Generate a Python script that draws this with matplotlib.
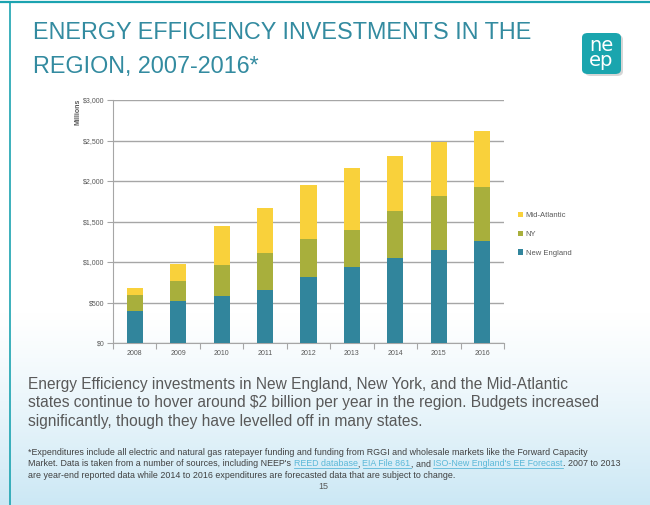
import numpy as np
import matplotlib
matplotlib.use("Agg")
import matplotlib.pyplot as plt
from matplotlib.patches import FancyBboxPatch
from matplotlib.lines import Line2D

# data (millions of dollars)
years = ["2008", "2009", "2010", "2011", "2012", "2013", "2014", "2015", "2016"]
new_england = [390, 514, 575, 658, 818, 938, 1053, 1152, 1254]
ny = [198, 255, 383, 457, 461, 457, 572, 667, 667]
mid_atlantic = [91, 210, 490, 552, 667, 769, 679, 666, 691]
y_ticks = [0, 500, 1000, 1500, 2000, 2500, 3000]

c_ne = "#31859C"
c_ny = "#A8AF3C"
c_ma = "#F9D13B"
grey_txt = "#595959"
teal = "#338BA0"

W, H = 650, 505
fig = plt.figure(figsize=(6.5, 5.05), dpi=100)
plt.rcParams["font.family"] = ["Liberation Sans", "DejaVu Sans"]

# background: white fading into light blue at the bottom
bg = fig.add_axes([0, 0, 1, 1], zorder=-10)
bg.axis("off")
t = np.linspace(0, 1, H)
ramp = np.clip((t - 0.62) / 0.38, 0, 1) ** 1.2
top_c = np.array([1.0, 1.0, 1.0])
bot_c = np.array([0.80, 0.91, 0.96])
grad = top_c[None, :] * (1 - ramp[:, None]) + bot_c[None, :] * ramp[:, None]
bg.imshow(grad[:, None, :], aspect="auto", extent=[0, 1, 0, 1])
bg.set_xlim(0, 1)
bg.set_ylim(0, 1)

def fx(px):
    return px / W

def fy(py):
    return 1 - py / H

# slide frame lines
fig.add_artist(Line2D([0, 1], [fy(1.5), fy(1.5)], color="#1BA3B0", lw=1.6))
fig.add_artist(Line2D([fx(10), fx(10)], [0, fy(1.5)], color="#1BA3B0", lw=1.2))

# title
fig.text(fx(33), fy(39), "ENERGY EFFICIENCY INVESTMENTS IN THE", color=teal,
         fontsize=16.8, va="baseline", ha="left")
fig.text(fx(33), fy(73), "REGION, 2007-2016*", color=teal,
         fontsize=16.8, va="baseline", ha="left")

# logo
shadow = FancyBboxPatch((fx(585), fy(76)), fx(38), 41 / H,
                        boxstyle="round,pad=0,rounding_size=0.009",
                        transform=fig.transFigure, fc="#BBBBBB", ec="none", alpha=0.6)
fig.add_artist(shadow)
logo = FancyBboxPatch((fx(582), fy(74)), fx(39), 41 / H,
                      boxstyle="round,pad=0,rounding_size=0.009",
                      transform=fig.transFigure, fc="#1AA5AE", ec="none")
fig.add_artist(logo)
fig.text(fx(601.5), fy(53), "ne\nep", color="white", fontsize=14, ha="center",
         va="center", family="DejaVu Sans", linespacing=0.72)

# chart
ax = fig.add_axes([fx(113), fy(343), (504 - 113) / W, (343 - 100) / H])
ax.set_facecolor("none")
x = np.arange(len(years))
bw = 0.37
b1 = ax.bar(x, new_england, bw, color=c_ne, label="New England", zorder=3)
b2 = ax.bar(x, ny, bw, bottom=new_england, color=c_ny, label="NY", zorder=3)
base = np.array(new_england) + np.array(ny)
b3 = ax.bar(x, mid_atlantic, bw, bottom=base, color=c_ma, label="Mid-Atlantic", zorder=3)

ax.set_xlim(-0.5, len(years) - 0.5)
ax.set_ylim(0, 3000)
ax.set_yticks(y_ticks)
ax.set_yticklabels([f"${v:,}" for v in y_ticks])
ax.set_xticks(x)
ax.set_xticklabels(years)
ax.set_xticks(np.arange(-0.5, len(years)), minor=True)
ax.tick_params(axis="x", which="major", length=0, labelsize=5, colors=grey_txt, pad=5)
ax.tick_params(axis="x", which="minor", length=4, color="#A6A6A6", width=0.8)
ax.tick_params(axis="y", length=4, color="#A6A6A6", width=0.8, labelsize=5,
               labelcolor=grey_txt, pad=2)
ax.grid(axis="y", color="#A6A6A6", lw=1, zorder=0)
ax.set_axisbelow(True)
for s in ["top", "right"]:
    ax.spines[s].set_visible(False)
for s in ["left", "bottom"]:
    ax.spines[s].set_color("#A6A6A6")
    ax.spines[s].set_linewidth(0.8)
ax.set_ylabel("Millions", fontsize=5, color=grey_txt, fontweight="bold")
ax.yaxis.set_label_coords(-0.08, 0.95)

fig.legend(handles=[b3, b2, b1], loc="upper left",
           bbox_to_anchor=(fx(511), fy(205)), frameon=False, fontsize=5.5,
           handlelength=0.7, handleheight=0.7, handletextpad=0.3,
           labelspacing=1.5, labelcolor=grey_txt)

# body text
body = [
    "Energy Efficiency investments in New England, New York, and the Mid-Atlantic",
    "states continue to hover around $2 billion per year in the region. Budgets increased",
    "significantly, though they have levelled off in many states.",
]
for i, line in enumerate(body):
    fig.text(fx(28), fy(389 + 18.5 * i), line, color=grey_txt, fontsize=11.2,
             va="baseline", ha="left")

# footnote with link-coloured pieces
link_c = "#5BB8D8"
foot = [
    [("*Expenditures include all electric and natural gas ratepayer funding and funding "
      "from RGGI and wholesale markets like the Forward Capacity", False)],
    [("Market. Data is taken from a number of sources, including NEEP's ", False),
     ("REED database", True), (", ", False), ("EIA File 861", True),
     (", and ", False), ("ISO-New England's EE Forecast", True),
     (". 2007 to 2013", False)],
    [("are year-end reported data while 2014 to 2016 expenditures are forecasted "
      "data that are subject to change.", False)],
]
renderer = fig.canvas.get_renderer()
for i, pieces in enumerate(foot):
    xpix = 28
    ypix = 455 + 11.5 * i
    for txt, is_link in pieces:
        tt = fig.text(fx(xpix), fy(ypix), txt, fontsize=6.4, va="baseline",
                      ha="left", color=link_c if is_link else "#404040")
        bb = tt.get_window_extent(renderer)
        if is_link:
            fig.add_artist(Line2D([fx(xpix), fx(xpix + bb.width)],
                                  [fy(ypix + 1.5), fy(ypix + 1.5)],
                                  color=link_c, lw=0.6))
        xpix += bb.width

fig.text(fx(323), fy(489), "15", color=grey_txt, fontsize=6.5, ha="center",
         va="baseline")

fig.savefig("out.png", dpi=100)
